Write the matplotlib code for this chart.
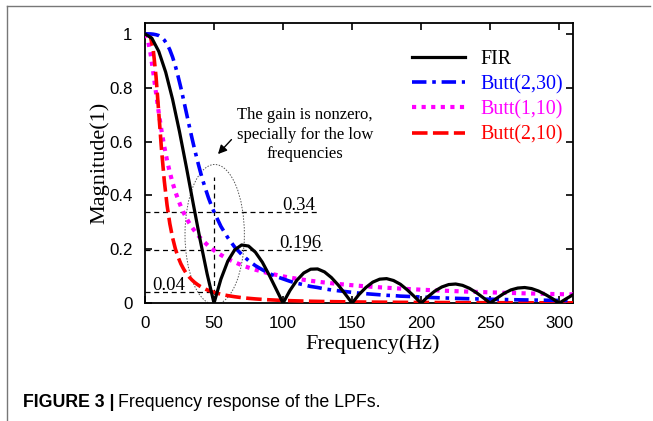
import matplotlib
matplotlib.use("Agg")
import matplotlib.pyplot as plt
from matplotlib.patches import Ellipse
from matplotlib.lines import Line2D

# ---- data ----
f_fir = list(range(0, 315, 5))
fir = [1.0, 0.984, 0.935, 0.858, 0.757, 0.637, 0.505, 0.368, 0.234, 0.109,
       0.0, 0.089, 0.156, 0.198, 0.216, 0.212, 0.189, 0.152, 0.104, 0.052,
       0.0, 0.047, 0.085, 0.112, 0.126, 0.127, 0.116, 0.095, 0.067, 0.034,
       0.0, 0.032, 0.058, 0.078, 0.089, 0.091, 0.084, 0.070, 0.049, 0.025,
       0.0, 0.024, 0.045, 0.060, 0.069, 0.071, 0.066, 0.055, 0.039, 0.020,
       0.0, 0.019, 0.036, 0.049, 0.056, 0.058, 0.054, 0.045, 0.032, 0.017,
       0.0, 0.016, 0.031]

f_butt = list(range(0, 52, 2)) + list(range(55, 315, 5))
butt_2_30 = [1.0, 1.0, 1.0, 0.999, 0.997, 0.994, 0.988, 0.977, 0.962, 0.941,
             0.914, 0.881, 0.842, 0.800, 0.754, 0.707, 0.660, 0.614, 0.570,
             0.529, 0.490, 0.454, 0.422, 0.391, 0.364, 0.339,
             0.285, 0.243, 0.208, 0.181, 0.158, 0.139, 0.124, 0.110, 0.099,
             0.090, 0.081, 0.074, 0.068, 0.062, 0.058, 0.053, 0.049, 0.046,
             0.043, 0.040, 0.037, 0.035, 0.033, 0.031, 0.029, 0.028, 0.026,
             0.025, 0.024, 0.0225, 0.0214, 0.0204, 0.0195, 0.0186, 0.0178,
             0.017, 0.0163, 0.0156, 0.015, 0.0144, 0.0138, 0.0133, 0.0128,
             0.0123, 0.0119, 0.0115, 0.0111, 0.0107, 0.0103, 0.010, 0.0097,
             0.0094]
butt_1_10 = [1.0, 0.981, 0.928, 0.857, 0.781, 0.707, 0.640, 0.581, 0.530,
             0.486, 0.447, 0.414, 0.385, 0.359, 0.336, 0.316, 0.298, 0.282,
             0.268, 0.254, 0.243, 0.232, 0.222, 0.212, 0.204, 0.196,
             0.179, 0.164, 0.152, 0.141, 0.132, 0.124, 0.117, 0.110, 0.105,
             0.0995, 0.0948, 0.0905, 0.0866, 0.083, 0.0797, 0.0767, 0.0739,
             0.0712, 0.0688, 0.0665, 0.0644, 0.0624, 0.0605, 0.0587, 0.0571,
             0.0555, 0.054, 0.0526, 0.0512, 0.0499, 0.0487, 0.0476, 0.0465,
             0.0454, 0.0444, 0.0434, 0.0425, 0.0416, 0.0408, 0.040, 0.0392,
             0.0384, 0.0377, 0.037, 0.0363, 0.0357, 0.0351, 0.0345, 0.0339,
             0.0333, 0.0328, 0.0322]
butt_2_10 = [1.0, 0.999, 0.988, 0.941, 0.842, 0.707, 0.570, 0.454, 0.364,
             0.295, 0.243, 0.202, 0.171, 0.146, 0.1265, 0.110, 0.0972,
             0.0862, 0.0769, 0.0691, 0.0624, 0.0566, 0.0516, 0.0473, 0.0434,
             0.040,
             0.033, 0.0278, 0.0237, 0.0204, 0.0178, 0.0156, 0.0138, 0.0123,
             0.0111, 0.010, 0.0091, 0.0083, 0.0076, 0.0069, 0.0064, 0.0059,
             0.0055, 0.0051, 0.0048, 0.0044, 0.0042, 0.0039, 0.0037, 0.0035,
             0.0033, 0.0031, 0.0029, 0.0028, 0.0026, 0.0025, 0.0024, 0.0023,
             0.0022, 0.0021, 0.002, 0.0019, 0.0018, 0.0017, 0.0017, 0.0016,
             0.0015, 0.0015, 0.0014, 0.0014, 0.0013, 0.0013, 0.0012, 0.0012,
             0.0011, 0.0011, 0.0011, 0.001]

mark_levels = [0.34, 0.196, 0.04]
mark_labels = ["0.34", "0.196", "0.04"]

serif = ["Liberation Serif", "DejaVu Serif"]
plt.rcParams["font.family"] = ["Liberation Sans", "DejaVu Sans"]

fig = plt.figure(figsize=(6.53, 4.21), dpi=100)
ax = fig.add_axes([0.222, 0.280, 0.6555, 0.665])

ax.plot(f_fir, fir, color="black", lw=2.3, label="FIR", zorder=5)
ax.plot(f_butt, butt_2_30, color="blue", lw=2.6, ls=(0, (4, 1.6, 1, 1.6)),
        label="Butt(2,30)", zorder=4)
ax.plot(f_butt, butt_1_10, color="magenta", lw=3.0, ls=(0, (1, 1.3)),
        label="Butt(1,10)", zorder=3)
ax.plot(f_butt, butt_2_10, color="red", lw=2.6, ls=(0, (4.3, 1.5)),
        label="Butt(2,10)", zorder=3)

# guide lines
dash = (0, (4, 3))
ax.plot([0, 127], [mark_levels[0]] * 2, color="black", lw=0.9, ls=dash)
ax.plot([0, 128], [mark_levels[1]] * 2, color="black", lw=0.9, ls=dash)
ax.plot([0, 51], [mark_levels[2]] * 2, color="black", lw=0.9, ls=dash)
ax.plot([50, 50], [0, 0.47], color="black", lw=0.9, ls=dash)
ax.text(111.5, 0.347, mark_labels[0], ha="center", va="baseline",
        family=serif, fontsize=13.5)
ax.text(112.5, 0.203, mark_labels[1], ha="center", va="baseline",
        family=serif, fontsize=13.5)
ax.text(5.5, 0.047, mark_labels[2], ha="left", va="baseline",
        family=serif, fontsize=13.5)

ax.add_patch(Ellipse((50.5, 0.255), 43, 0.52, fill=False, ec="#555555",
                     lw=0.7, ls=(0, (1.5, 1.5)), zorder=2))
ax.annotate("", xy=(51.5, 0.546), xytext=(64, 0.615),
            arrowprops=dict(arrowstyle="-|>", color="black", lw=1.0,
                            mutation_scale=13))
ax.text(116, 0.626, "The gain is nonzero,\nspecially for the low\nfrequencies",
        ha="center", va="center", family=serif, fontsize=12,
        linespacing=1.27)

ax.set_xlim(0, 310)
ax.set_ylim(0, 1.04)
ax.set_xticks([0, 50, 100, 150, 200, 250, 300])
ax.set_yticks([0, 0.2, 0.4, 0.6, 0.8, 1])
ax.set_yticklabels(["0", "0.2", "0.4", "0.6", "0.8", "1"])
ax.tick_params(direction="in", top=True, right=True, length=5, width=1.2,
               labelsize=12.2)
ax.tick_params(axis="x", pad=9)
ax.tick_params(axis="y", pad=9)
for s in ax.spines.values():
    s.set_linewidth(1.3)

ax.set_xlabel("Frequency(Hz)", family=serif, fontsize=16)
ax.set_ylabel("Magnitude(1)", family=serif, fontsize=16)
ax.xaxis.set_label_coords(0.533, -0.112)
ax.yaxis.set_label_coords(-0.082, 0.5)

leg = ax.legend(loc="upper left", bbox_to_anchor=(0.624, 0.905),
                frameon=False, borderpad=0, borderaxespad=0,
                prop={"family": serif, "size": 14.4}, handlelength=2.65,
                handletextpad=0.75, labelspacing=0.3)
for txt, line in zip(leg.get_texts(), leg.get_lines()):
    txt.set_color(line.get_color())

# caption and page frame
cap1 = fig.text(23 / 653, 1 - 407 / 421, "FIGURE 3 |", fontsize=12.8,
                fontweight="bold", ha="left", va="baseline")
fig.canvas.draw()
bb = cap1.get_window_extent()
fig.text((bb.x1 + 4) / fig.bbox.width, 1 - 407 / 421,
         "Frequency response of the LPFs.", fontsize=12.8,
         ha="left", va="baseline")
fig.add_artist(Line2D([0.011, 0.011], [0.0, 0.986], color="#777777", lw=1.0))
fig.add_artist(Line2D([0.011, 0.996], [0.986, 0.986], color="#777777", lw=1.0))

fig.savefig("out.png", dpi=100)
